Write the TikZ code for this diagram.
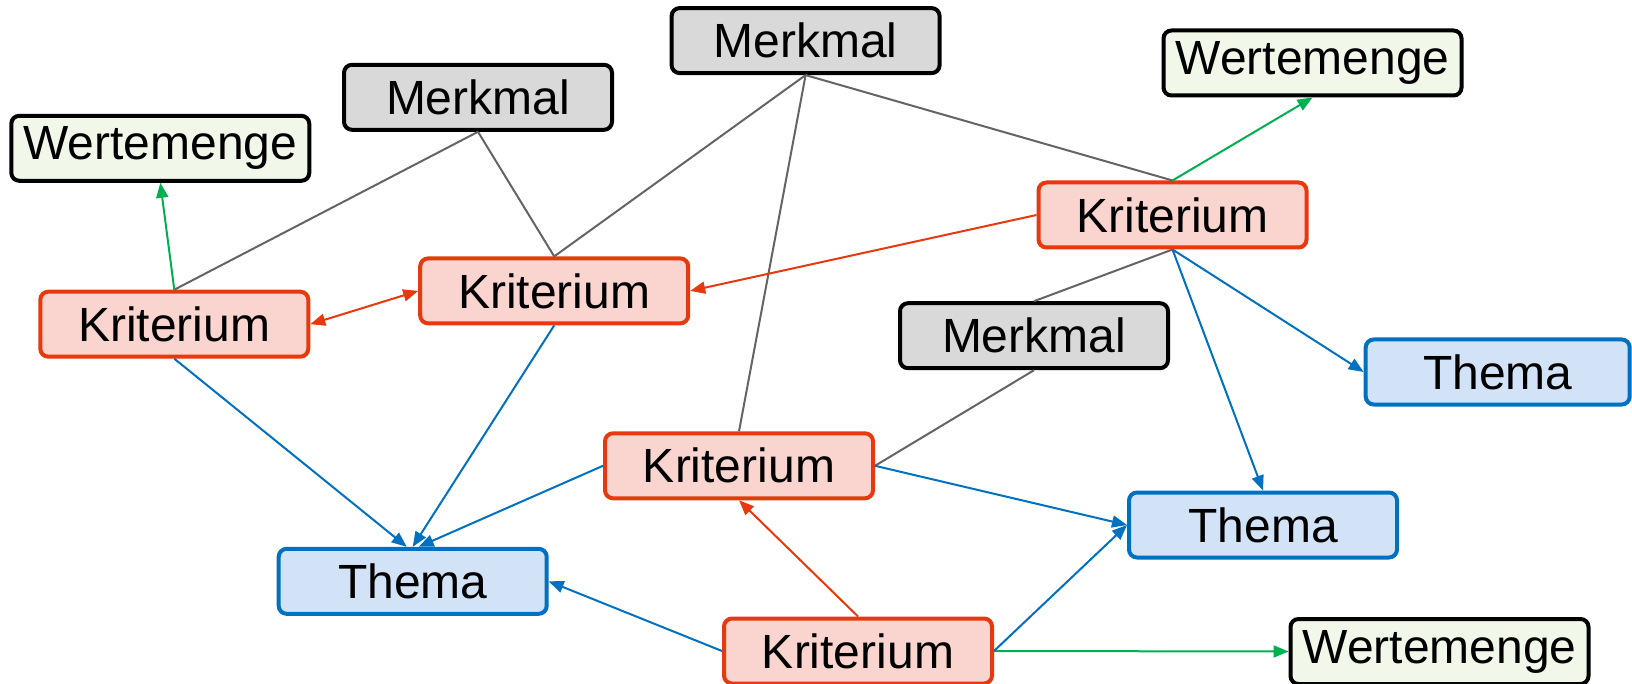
\documentclass[tikz,border=0pt]{standalone}
\usepackage{fontspec}
\setmainfont{Liberation Sans}
\usetikzlibrary{arrows.meta}
\definecolor{krfill}{HTML}{FAD4CE}
\definecolor{krdraw}{HTML}{E8380D}
\definecolor{thfill}{HTML}{D2E3F7}
\definecolor{thdraw}{HTML}{0070C0}
\definecolor{mkfill}{HTML}{D9D9D9}
\definecolor{wmfill}{HTML}{F1F8E9}
\definecolor{grayline}{HTML}{646464}
\definecolor{greenline}{HTML}{00B050}
\tikzset{
  box/.style={rounded corners=8pt, line width=4pt, minimum width=268pt, minimum height=65pt, inner sep=0pt,
    font=\fontsize{48}{57}\selectfont},
  krit/.style={box, draw=krdraw, fill=krfill},
  thema/.style={box, draw=thdraw, fill=thfill},
  merk/.style={box, draw=black, fill=mkfill},
  wert/.style={box, draw=black, fill=wmfill, minimum width=298pt},
  tip/.style={-{Triangle[length=15pt,width=12pt]}},
  gline/.style={draw=grayline, line width=2pt},
  grline/.style={draw=greenline, line width=2pt, tip},
  rline/.style={draw=krdraw, line width=2pt, tip},
  bline/.style={draw=thdraw, line width=2pt, tip},
}
\begin{document}
\begin{tikzpicture}[x=1pt,y=-1pt]
\useasboundingbox (0,0) rectangle (1632,684);
\node[merk] (mt) at (805.6,40.6) {Merkmal};
\node[merk] (ml) at (478,97.3) {Merkmal};
\node[wert] (wl) at (160.3,148.3) {Wertemenge};
\node[wert] (wtr) at (1312.5,63) {Wertemenge};
\node[krit] (kl) at (174.3,324.2) {Kriterium};
\node[krit] (kml) at (554.2,290.9) {Kriterium};
\node[krit] (ktr) at (1172.5,215) {Kriterium};
\node[merk] (mm) at (1034,335.7) {Merkmal};
\node[thema, minimum width=264pt] (tr) at (1497.7,372) {Thema};
\node[krit] (kc) at (739,465.8) {Kriterium};
\node[thema] (tm) at (1263,525) {Thema};
\node[thema] (tl) at (412.7,581.3) {Thema};
\node[krit] (kb) at (858,651) {Kriterium};
\node[wert] (wb) at (1439.5,651.5) {Wertemenge};
% gray
\draw[gline] (mt.south) -- (kml.north);
\draw[gline] (mt.south) -- (kc.north);
\draw[gline] (mt.south) -- (ktr.north);
\draw[gline] (ml.south) -- (kl.north);
\draw[gline] (ml.south) -- (kml.north);
\draw[gline] (mm.south) -- (kc.east);
\draw[gline] (ktr.south) -- (mm.north);
% green
\draw[grline] (kl.north) -- (wl.south);
\draw[grline] (ktr.north) -- (wtr.south);
\draw[grline] (kb.east) -- (wb.west);
% red
\draw[rline, {Triangle[length=15pt,width=12pt]}-{Triangle[length=15pt,width=12pt]}] (kl.east) -- (kml.west);
\draw[rline] (ktr.west) -- (kml.east);
\draw[rline] (kb.north) -- (kc.south);
% blue
\draw[bline] (kl.south) -- ([xshift=-6pt]tl.north);
\draw[bline] (kml.south) -- (tl.north);
\draw[bline] (kc.west) -- ([xshift=6pt]tl.north);
\draw[bline] (kb.west) -- (tl.east);
\draw[bline] (kc.east) -- (tm.west);
\draw[bline] (kb.east) -- (tm.west);
\draw[bline] (ktr.south) -- (tr.west);
\draw[bline] (ktr.south) -- (tm.north);
\end{tikzpicture}
\end{document}
